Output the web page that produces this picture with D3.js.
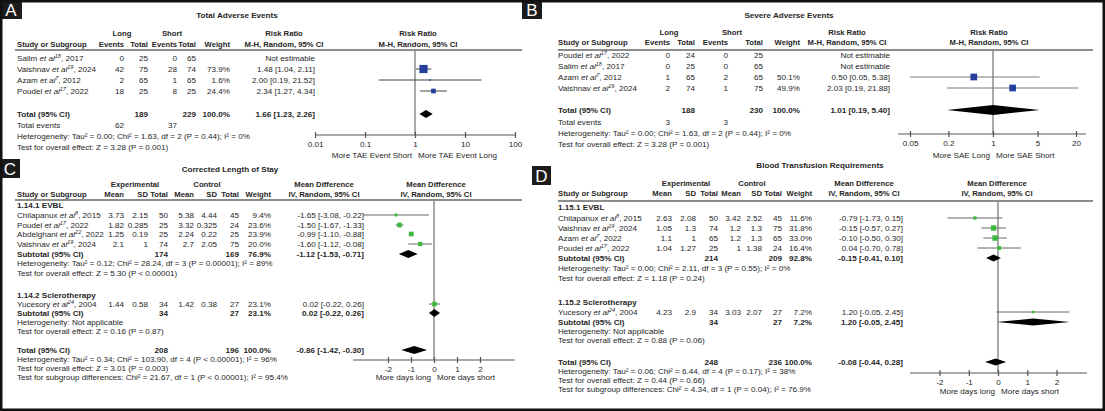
<!DOCTYPE html>
<html>
<head>
<meta charset="utf-8">
<script src="https://cdn.jsdelivr.net/npm/d3@7"></script>
<style>
  body { margin: 0; background: #fff; }
  svg { display: block; }
  text { font-family: "Liberation Sans", Arial, sans-serif; }
</style>
</head>
<body>
<div id="chart"></div>
<script>
// ---------- Panel A: Total adverse events (risk ratio)
// study, ref, year, long events, long total, short events, short total, weight %, RR, low, high
const studiesA = [
    ["Salim", "18", 2017, 0, 25, 0, 65, null, null, null, null],
    ["Vaishnav", "19", 2024, 42, 75, 28, 74, 73.9, 1.48, 1.04, 2.11],
    ["Azam", "7", 2012, 2, 65, 1, 65, 1.6, 2.00, 0.19, 21.52],
    ["Poudel", "17", 2022, 18, 25, 8, 25, 24.4, 2.34, 1.27, 4.34]
];
const totalNA = [189, 229];
const totalEventsA = [62, 37];
const pooledA = [1.66, 1.23, 2.26];
const statsA = ["Heterogeneity: Tau² = 0.00; Chi² = 1.63, df = 2 (P = 0.44); I² = 0%",
                "Test for overall effect: Z = 3.28 (P = 0.001)"];
const ticksA = [0.01, 0.1, 1, 10, 100];
const favoursA = ["More TAE Event Short", "More TAE Event Long"];

// ---------- Panel B: Severe adverse events (risk ratio)
const studiesB = [
    ["Poudel", "17", 2022, 0, 24, 0, 25, null, null, null, null],
    ["Salim", "18", 2017, 0, 25, 0, 65, null, null, null, null],
    ["Azam", "7", 2012, 1, 65, 2, 65, 50.1, 0.50, 0.05, 5.38],
    ["Vaishnav", "19", 2024, 2, 74, 1, 75, 49.9, 2.03, 0.19, 21.88]
];
const totalNB = [188, 230];
const totalEventsB = [3, 3];
const pooledB = [1.01, 0.19, 5.40];
const statsB = ["Heterogeneity: Tau² = 0.00; Chi² = 1.63, df = 2 (P = 0.44); I² = 0%",
                "Test for overall effect: Z = 3.28 (P = 0.001)"];
const ticksB = [0.05, 0.2, 1, 5, 20];
const favoursB = ["More SAE Long", "More SAE Short"];

// ---------- Panel C: Corrected length of stay (mean difference)
// study, ref, year, exp mean, exp sd, exp n, ctl mean, ctl sd, ctl n, weight %, MD, low, high, printed MD
const evblC = [
    ["Chilapanux", "8", 2015, 3.73, 2.15, 50, 5.38, 4.44, 45, 9.4, -1.65, -3.08, -0.22, "-1.65"],
    ["Poudel", "17", 2022, 1.82, 0.285, 25, 3.32, 0.325, 24, 23.6, -1.50, -1.67, -1.33, "-1.50"],
    ["Abdelghani", "22", 2022, 1.25, 0.19, 25, 2.24, 0.22, 25, 23.9, -0.99, -1.10, -0.88, "-0.99"],
    ["Vaishnav", "19", 2024, 2.1, 1, 74, 2.7, 2.05, 75, 20.0, -0.60, -1.12, -0.08, "-1.60"]
];
const evblSubC = [174, 169, 76.9, -1.12, -1.53, -0.71];
const evblStatsC = ["Heterogeneity: Tau² = 0.12; Chi² = 28.24, df = 3 (P = 0.00001); I² = 89%",
                    "Test for overall effect: Z = 5.30 (P < 0.00001)"];
const scleroC = [
    ["Yucesory", "24", 2004, 1.44, 0.58, 34, 1.42, 0.38, 27, 23.1, 0.02, -0.22, 0.26, "0.02"]
];
const scleroSubC = [34, 27, 23.1, 0.02, -0.22, 0.26];
const scleroStatsC = ["Heterogeneity: Not applicable", "Test for overall effect: Z = 0.16 (P = 0.87)"];
const totalC = [208, 196, 100.0, -0.86, -1.42, -0.30];
const totalStatsC = ["Heterogeneity: Tau² = 0.34; Chi² = 103.90, df = 4 (P < 0.00001); I² = 96%",
                     "Test for overall effect: Z = 3.01 (P = 0.003)",
                     "Test for subgroup differences: Chi² = 21.67, df = 1 (P < 0.00001); I² = 95.4%"];
const sectionsC = ["1.14.1 EVBL", "1.14.2 Sclerotherapy"];

// ---------- Panel D: Blood transfusion requirements (mean difference)
const evblD = [
    ["Chilapanux", "8", 2015, 2.63, 2.08, 50, 3.42, 2.52, 45, 11.6, -0.79, -1.73, 0.15, "-0.79"],
    ["Vaishnav", "19", 2024, 1.05, 1.3, 74, 1.2, 1.3, 75, 31.8, -0.15, -0.57, 0.27, "-0.15"],
    ["Azam", "7", 2022, 1.1, 1, 65, 1.2, 1.3, 65, 33.0, -0.10, -0.50, 0.30, "-0.10"],
    ["Poudel", "17", 2022, 1.04, 1.27, 25, 1, 1.38, 24, 16.4, 0.04, -0.70, 0.78, "0.04"]
];
const evblSubD = [214, 209, 92.8, -0.15, -0.41, 0.10];
const evblStatsD = ["Heterogeneity: Tau² = 0.00; Chi² = 2.11, df = 3 (P = 0.55); I² = 0%",
                    "Test for overall effect: Z = 1.18 (P = 0.24)"];
const scleroD = [
    ["Yucesory", "24", 2004, 4.23, 2.9, 34, 3.03, 2.07, 27, 7.2, 1.20, -0.05, 2.45, "1.20"]
];
const scleroSubD = [34, 27, 7.2, 1.20, -0.05, 2.45];
const scleroStatsD = ["Heterogeneity: Not applicable", "Test for overall effect: Z = 0.88 (P = 0.06)"];
const totalD = [248, 236, 100.0, -0.08, -0.44, 0.28];
const totalStatsD = ["Heterogeneity: Tau² = 0.06; Chi² = 6.44, df = 4 (P = 0.17); I² = 38%",
                     "Test for overall effect: Z = 0.44 (P = 0.66)",
                     "Test for subgroup differences: Chi² = 4.34, df = 1 (P = 0.04); I² = 76.9%"];
const sectionsD = ["1.15.1 EVBL", "1.15.2 Sclerotherapy"];
const ticksMD = [-2, -1, 0, 1, 2];
const favoursMD = ["More days long", "More days short"];

const W = 1105, H = 411;
const INK = "#262626";
const FS = 8.1;   // body text
const HS = 7.7;   // column headers

const svg = d3.select("#chart")
    .append("svg")
    .attr("width", W)
    .attr("height", H);

// ---------- helpers
function txt(x, y, s, opt = {}) {
    return svg.append("text")
        .attr("x", x)
        .attr("y", y)
        .attr("dy", "0.35em")
        .attr("text-anchor", opt.anchor || "start")
        .style("font-size", (opt.size || FS) + "px")
        .style("font-weight", opt.bold ? "bold" : "normal")
        .style("fill", INK)
        .text(s);
}
const hdr = (x, y, s, anchor) => txt(x, y, s, { anchor: anchor || "end", bold: true, size: HS });

function studyLabel(x, y, name, ref, year) {
    const t = svg.append("text")
        .attr("x", x)
        .attr("y", y)
        .attr("dy", "0.35em")
        .style("font-size", FS + "px")
        .style("fill", INK);
    t.append("tspan").text(name + " ");
    t.append("tspan").style("font-style", "italic").text("et al");
    t.append("tspan").attr("dy", -3).style("font-size", "5.5px").style("font-style", "italic").text(ref);
    t.append("tspan").attr("dy", 3).text(", " + year);
}

const f2 = v => v.toFixed(2);
const ci = (e, lo, hi) => `${e} [${f2(lo)}, ${f2(hi)}]`;

function box(x, y, est, weight, color) {
    const s = Math.max(1.6, Math.sqrt(weight) * 0.95);
    svg.append("rect")
        .attr("x", x(est) - s / 2)
        .attr("y", y - s / 2)
        .attr("width", s)
        .attr("height", s)
        .attr("fill", color);
}

function whisker(x, y, lo, hi, color) {
    svg.append("line")
        .attr("x1", x(lo)).attr("x2", x(hi))
        .attr("y1", y).attr("y2", y)
        .attr("stroke", color)
        .attr("stroke-width", 1);
}

function diamond(x, y, est, lo, hi, h) {
    svg.append("path")
        .attr("d", `M${x(lo)},${y} L${x(est)},${y - h / 2} L${x(hi)},${y} L${x(est)},${y + h / 2} Z`)
        .attr("fill", "#000");
}

function axisAt(x, L, ticks, favours) {
    svg.append("line")
        .attr("x1", x(L.nullValue)).attr("x2", x(L.nullValue))
        .attr("y1", L.vline[0]).attr("y2", L.vline[1])
        .attr("stroke", "#8c8c8c")
        .attr("stroke-width", 1.5);
    svg.append("line")
        .attr("x1", L.axisX[0]).attr("x2", L.axisX[1])
        .attr("y1", L.axisY).attr("y2", L.axisY)
        .attr("stroke", "#555")
        .attr("stroke-width", 1.2);
    const g = svg.append("g")
        .attr("transform", `translate(0,${L.axisY})`)
        .call(d3.axisBottom(x).tickValues(ticks).tickFormat(d => String(d)).tickSize(3).tickPadding(3));
    g.select(".domain").remove();
    g.selectAll(".tick line").attr("y1", -3).attr("y2", 3).attr("stroke", "#555").attr("stroke-width", 1.2);
    g.selectAll(".tick text")
        .style("font-size", FS + "px")
        .style("font-family", "'Liberation Sans', Arial, sans-serif")
        .style("fill", INK);
    txt(x(L.nullValue) - 3, L.favY, favours[0], { anchor: "end" });
    txt(x(L.nullValue) + 3, L.favY, favours[1]);
}

// ---------- risk ratio panels (A, B)
function drawRiskRatio(studies, totalN, totalEv, pooled, stats, ticks, favours, title, L) {
    const c = L.cols;
    txt(L.title[0], L.title[1], title, { anchor: "middle", bold: true });
    hdr(L.groupHdr[0], L.h1, "Long", "middle");
    hdr(L.groupHdr[1], L.h1, "Short", "middle");
    hdr(L.ciHdr, L.h1, "Risk Ratio", "middle");
    hdr(L.plotHdr, L.h1, "Risk Ratio", "middle");
    hdr(L.studyX, L.h2, "Study or Subgroup", "start");
    ["Events", "Total", "Events", "Total", "Weight"].forEach((h, i) => hdr(c[i], L.h2, h));
    hdr(L.ciHdr, L.h2, "M-H, Random, 95% CI", "middle");
    hdr(L.plotHdr, L.h2, "M-H, Random, 95% CI", "middle");
    svg.append("line")
        .attr("x1", L.rule[0]).attr("x2", L.rule[1])
        .attr("y1", L.rule[2]).attr("y2", L.rule[2])
        .attr("stroke", "#666").attr("stroke-width", 1.5);

    const x = L.scale;
    axisAt(x, L, ticks, favours);

    studies.forEach((s, i) => {
        const y = L.rows[i];
        const [name, ref, year, evL, nL, evS, nS, w, rr, lo, hi] = s;
        studyLabel(L.studyX, y, name, ref, year);
        [evL, nL, evS, nS].forEach((v, j) => txt(c[j], y, String(v), { anchor: "end" }));
        if (w !== null) txt(c[4], y, w.toFixed(1) + "%", { anchor: "end" });
        txt(c[5], y, rr === null ? "Not estimable" : ci(f2(rr), lo, hi), { anchor: "end" });
        if (rr !== null) {
            whisker(x, y, lo, hi, L.whisker);
            box(x, y, rr, w, "#24409c");
        }
    });

    txt(L.studyX, L.total, "Total (95% CI)", { bold: true });
    txt(c[1], L.total, String(totalN[0]), { anchor: "end", bold: true });
    txt(c[3], L.total, String(totalN[1]), { anchor: "end", bold: true });
    txt(c[4], L.total, "100.0%", { anchor: "end", bold: true });
    txt(c[5], L.total, ci(f2(pooled[0]), pooled[1], pooled[2]), { anchor: "end", bold: true });
    diamond(x, L.total, pooled[0], pooled[1], pooled[2], L.diamondH);
    txt(L.studyX, L.events, "Total events");
    txt(c[0], L.events, String(totalEv[0]), { anchor: "end" });
    txt(c[2], L.events, String(totalEv[1]), { anchor: "end" });
    txt(L.studyX, L.het, stats[0]);
    txt(L.studyX, L.test, stats[1]);
}

// ---------- mean difference panels (C, D)
function drawMeanDiff(sec1, sub1, st1, sec2, sub2, st2, total, stTot, sections, title, L) {
    const c = L.cols;
    const x = L.scale;
    txt(L.title[0], L.title[1], title, { anchor: "middle", bold: true });
    hdr(L.groupHdr[0], L.h1, "Experimental", "middle");
    hdr(L.groupHdr[1], L.h1, "Control", "middle");
    hdr(L.ciHdr, L.h1, "Mean Difference", "middle");
    hdr(L.plotHdr, L.h1, "Mean Difference", "middle");
    hdr(L.studyX, L.h2, "Study or Subgroup", "start");
    ["Mean", "SD", "Total", "Mean", "SD", "Total", "Weight"].forEach((h, i) => hdr(c[i], L.h2, h));
    hdr(L.ciHdr, L.h2, "IV, Random, 95% CI", "middle");
    hdr(L.plotHdr, L.h2, "IV, Random, 95% CI", "middle");
    svg.append("line")
        .attr("x1", L.rule[0]).attr("x2", L.rule[1])
        .attr("y1", L.rule[2]).attr("y2", L.rule[2])
        .attr("stroke", "#666").attr("stroke-width", 1.5);

    axisAt(x, L, ticksMD, favoursMD);

    function group(rows, sub, stats, label, G) {
        txt(L.studyX, G.sec, label, { bold: true });
        rows.forEach((s, i) => {
            const y = G.rows[i];
            const [name, ref, year, m1, sd1, n1, m2, sd2, n2, w, md, lo, hi, printed] = s;
            studyLabel(L.studyX, y, name, ref, year);
            [m1, sd1, n1, m2, sd2, n2].forEach((v, j) => txt(c[j], y, String(v), { anchor: "end" }));
            txt(c[6], y, w.toFixed(1) + "%", { anchor: "end" });
            txt(c[7], y, ci(printed, lo, hi), { anchor: "end" });
            whisker(x, y, lo, hi, L.whisker);
            box(x, y, md, w, "#3cb93c");
        });
        txt(L.studyX, G.sub, "Subtotal (95% CI)", { bold: true });
        txt(c[2], G.sub, String(sub[0]), { anchor: "end", bold: true });
        txt(c[5], G.sub, String(sub[1]), { anchor: "end", bold: true });
        txt(c[6], G.sub, sub[2].toFixed(1) + "%", { anchor: "end", bold: true });
        txt(c[7], G.sub, ci(f2(sub[3]), sub[4], sub[5]), { anchor: "end", bold: true });
        diamond(x, G.sub, sub[3], sub[4], sub[5], L.diamondH);
        txt(L.studyX, G.het, stats[0]);
        txt(L.studyX, G.test, stats[1]);
    }

    group(sec1, sub1, st1, sections[0], L.g1);
    group(sec2, sub2, st2, sections[1], L.g2);

    txt(L.studyX, L.total, "Total (95% CI)", { bold: true });
    txt(c[2], L.total, String(total[0]), { anchor: "end", bold: true });
    txt(c[5], L.total, String(total[1]), { anchor: "end", bold: true });
    txt(c[6], L.total, total[2].toFixed(1) + "%", { anchor: "end", bold: true });
    txt(c[7], L.total, ci(f2(total[3]), total[4], total[5]), { anchor: "end", bold: true });
    diamond(x, L.total, total[3], total[4], total[5], L.diamondH);
    stTot.forEach((s, i) => txt(L.studyX, L.totalStats[i], s));
}

// ---------- layouts
const layoutA = {
    title: [237, 15], h1: 33, h2: 44, rule: [15, 522, 50],
    groupHdr: [122, 172], ciHdr: 284, plotHdr: 418, studyX: 17,
    cols: [124, 148, 177, 196, 230, 315],
    rows: [58, 69, 80, 91], total: 114, events: 125, het: 136, test: 147,
    scale: d3.scaleLog().domain([0.01, 100]).range([315, 515]), nullValue: 1,
    axisY: 135, axisX: [315, 515], favY: 155, vline: [50, 135],
    diamondH: 8, whisker: "#444"
};
const layoutB = {
    title: [789, 15], h1: 32, h2: 42, rule: [558, 1093, 50],
    groupHdr: [669, 732], ciHdr: 847, plotHdr: 989, studyX: 558,
    cols: [670, 695, 728, 763, 800, 890],
    rows: [55, 66, 77, 88], total: 110, events: 122, het: 133, test: 144,
    scale: d3.scaleLog().domain([0.05, 20]).range([910, 1076]), nullValue: 1,
    axisY: 134, axisX: [898, 1086], favY: 155, vline: [50, 134],
    diamondH: 10, whisker: "#7a7a7a"
};
const layoutC = {
    title: [230, 169], h1: 184, h2: 194, rule: [15, 522, 200],
    groupHdr: [135, 207], ciHdr: 324, plotHdr: 436, studyX: 17,
    cols: [124, 148, 168, 194, 217, 239, 271, 364],
    g1: { sec: 205, rows: [215, 225, 234, 244], sub: 254, het: 263, test: 273 },
    g2: { sec: 295, rows: [304], sub: 313, het: 322, test: 331 },
    total: 350, totalStats: [359, 368, 377],
    scale: d3.scaleLinear().domain([-2, 2]).range([388, 480]), nullValue: 0,
    axisY: 360, axisX: [353, 515], favY: 377, vline: [200, 360],
    diamondH: 8, whisker: "#666"
};
const layoutD = {
    title: [820, 165], h1: 183, h2: 193, rule: [558, 1093, 201],
    groupHdr: [686, 752], ciHdr: 864, plotHdr: 997, studyX: 558,
    cols: [672, 696, 718, 741, 762, 782, 812, 903],
    g1: { sec: 207, rows: [218, 228, 238, 248], sub: 258, het: 268, test: 278 },
    g2: { sec: 302, rows: [312], sub: 322, het: 331, test: 340 },
    total: 362, totalStats: [371, 380, 389],
    scale: d3.scaleLinear().domain([-2, 2]).range([939.5, 1056.5]), nullValue: 0,
    axisY: 373, axisX: [910, 1087], favY: 391, vline: [201, 373],
    diamondH: 7, whisker: "#666"
};

drawRiskRatio(studiesA, totalNA, totalEventsA, pooledA, statsA, ticksA, favoursA, "Total Adverse Events", layoutA);
drawRiskRatio(studiesB, totalNB, totalEventsB, pooledB, statsB, ticksB, favoursB, "Severe Adverse Events", layoutB);
drawMeanDiff(evblC, evblSubC, evblStatsC, scleroC, scleroSubC, scleroStatsC, totalC, totalStatsC, sectionsC, "Corrected Length of Stay", layoutC);
drawMeanDiff(evblD, evblSubD, evblStatsD, scleroD, scleroSubD, scleroStatsD, totalD, totalStatsD, sectionsD, "Blood Transfusion Requirements", layoutD);

// ---------- panel letters and frame
[["A", 0, 0, 22, 19], ["B", 522, 1, 20, 18], ["C", 0, 159, 20, 19], ["D", 532, 166, 19, 19]].forEach(p => {
    svg.append("rect")
        .attr("x", p[1]).attr("y", p[2])
        .attr("width", p[3]).attr("height", p[4])
        .attr("fill", "#1b1b1b");
    svg.append("text")
        .attr("x", p[1] + p[3] / 2)
        .attr("y", p[2] + p[4] / 2)
        .attr("dy", "0.36em")
        .attr("text-anchor", "middle")
        .style("font-size", "17px")
        .style("fill", "#fff")
        .text(p[0]);
});

svg.append("rect")
    .attr("x", 1.25).attr("y", 1.25)
    .attr("width", W - 2.5).attr("height", H - 2.5)
    .attr("fill", "none")
    .attr("stroke", "#111")
    .attr("stroke-width", 2.5);
</script>
</body>
</html>
